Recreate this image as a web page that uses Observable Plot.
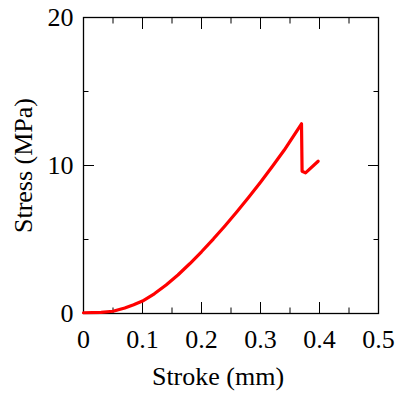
<!DOCTYPE html>
<html>
<head>
<meta charset="utf-8">
<script src="https://cdn.jsdelivr.net/npm/d3@7"></script>
<script src="https://cdn.jsdelivr.net/npm/@observablehq/plot@0.6"></script>
<style>
  html, body { margin: 0; padding: 0; background: #fff; }
  #chart svg { display: block; }
</style>
</head>
<body>
<div id="chart"></div>
<script>
// Stroke (mm) and Stress (MPa)
const stroke = [0, 0.03, 0.05, 0.07, 0.085, 0.1, 0.12, 0.14, 0.16, 0.18, 0.2, 0.22, 0.24, 0.26, 0.28, 0.3, 0.32, 0.34, 0.3695, 0.3705, 0.3763, 0.3977];
const stress = [0.05, 0.07, 0.15, 0.37, 0.59, 0.84, 1.33, 1.93, 2.6, 3.36, 4.17, 5.03, 5.93, 6.87, 7.85, 8.87, 9.93, 11.03, 12.82, 9.61, 9.5, 10.29];

const xMajor = [0, 0.1, 0.2, 0.3, 0.4, 0.5];
const xMinor = [0.05, 0.15, 0.25, 0.35, 0.45];
const yMajor = [0, 10, 20];
const yMinor = [5, 15];
const xLabel = "Stroke (mm)";
const yLabel = "Stress (MPa)";

const data = stroke.map((x, i) => ({x, y: stress[i]}));
const font = "'Liberation Serif', 'Times New Roman', serif";
const fs = 26;

const chart = Plot.plot({
  width: 397,
  height: 394,
  marginLeft: 83,
  marginRight: 19,
  marginTop: 17,
  marginBottom: 81,
  style: {fontFamily: font, background: "white", color: "black"},
  x: {domain: [0, 0.5]},
  y: {domain: [0, 20]},
  marks: [
    // inward ticks on all four sides
    Plot.axisX({anchor: "bottom", ticks: xMajor, tickSize: -11, text: null, label: null}),
    Plot.axisX({anchor: "bottom", ticks: xMinor, tickSize: -5.5, text: null, label: null}),
    Plot.axisX({anchor: "top", ticks: xMajor, tickSize: -11, text: null, label: null}),
    Plot.axisX({anchor: "top", ticks: xMinor, tickSize: -5.5, text: null, label: null}),
    Plot.axisY({anchor: "left", ticks: yMajor, tickSize: -11, text: null, label: null}),
    Plot.axisY({anchor: "left", ticks: yMinor, tickSize: -5.5, text: null, label: null}),
    Plot.axisY({anchor: "right", ticks: yMajor, tickSize: -11, text: null, label: null}),
    Plot.axisY({anchor: "right", ticks: yMinor, tickSize: -5.5, text: null, label: null}),
    // tick labels
    Plot.axisX({anchor: "bottom", ticks: xMajor, tickSize: 0, tickPadding: 16, tickFormat: d => String(d), fontSize: fs, label: null}),
    Plot.axisY({anchor: "left", ticks: yMajor, tickSize: 0, tickPadding: 10, tickFormat: d => String(d), fontSize: fs, label: null}),
    // axis titles
    Plot.text([xLabel], {text: d => d, frameAnchor: "bottom", lineAnchor: "top", dx: -13, dy: 53, fontSize: fs}),
    Plot.text([yLabel], {text: d => d, frameAnchor: "left", textAnchor: "middle", rotate: -90, lineAnchor: "middle", dx: -60, fontSize: fs}),
    Plot.frame({stroke: "black", strokeWidth: 1.3}),
    Plot.line(data, {x: "x", y: "y", stroke: "#ff0000", strokeWidth: 3.2, strokeLinejoin: "round", strokeLinecap: "round"})
  ]
});
document.getElementById("chart").appendChild(chart);
</script>
</body>
</html>
